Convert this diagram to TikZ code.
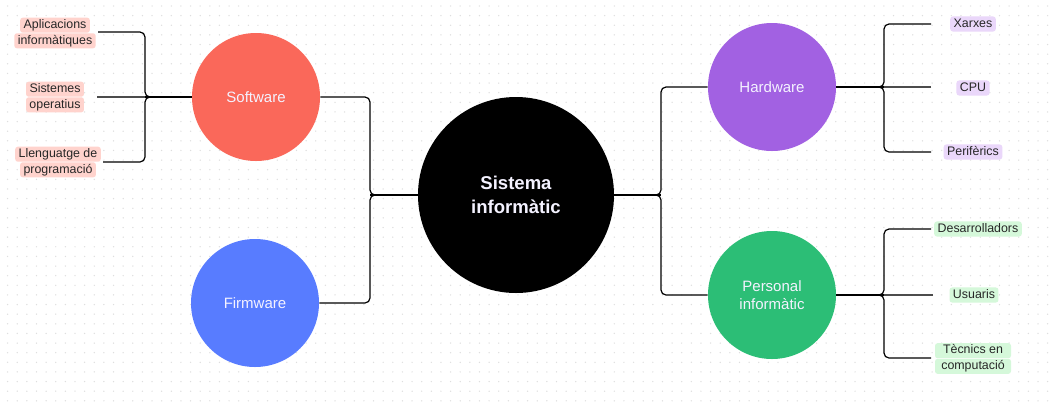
\documentclass[tikz,border=0pt]{standalone}
\usepackage{fontspec}
\setmainfont{Liberation Sans}
\definecolor{csoft}{RGB}{250,104,90}
\definecolor{cfirm}{RGB}{88,124,255}
\definecolor{chard}{RGB}{162,97,226}
\definecolor{cpers}{RGB}{44,190,118}
\definecolor{lpink}{RGB}{255,211,205}
\definecolor{lpurp}{RGB}{234,215,250}
\definecolor{lgreen}{RGB}{213,248,218}
\definecolor{ctext}{RGB}{244,242,255}
\definecolor{cdot}{RGB}{222,222,222}
\begin{document}
\begin{tikzpicture}[x=0.75pt,y=-0.75pt,
  hub/.style={circle, draw=none, inner sep=0pt, minimum size=96pt, text=ctext,
    font=\fontsize{11.25}{13.9}\selectfont, align=center},
  core/.style={circle, fill=black, inner sep=0pt, minimum size=147pt, text=ctext,
    font=\bfseries\fontsize{13.9}{18.4}\selectfont, align=center},
  lbl/.style={rounded corners=2pt, inner xsep=2.6pt, inner ysep=1.3pt,
    text height=6.8pt, text depth=1.9pt, font=\fontsize{9.3}{11}\selectfont, text=black!85},
  pinklbl/.style={lbl, fill=lpink},
  purplbl/.style={lbl, fill=lpurp},
  greenlbl/.style={lbl, fill=lgreen},
  conn/.style={draw=black, line width=0.9pt, rounded corners=3.75pt},
  connmid/.style={draw=black!70, line width=0.9pt},
]
\useasboundingbox (0,0) rectangle (1050,401);
\fill[white] (0,0) rectangle (1050,401);
% dot grid
\foreach \i in {0,...,108}{
  \foreach \j in {0,...,41}{
    \fill[cdot] (7.6+\i*9.63, 6+\j*9.63) circle[radius=0.55pt];
  }
}
% main nodes
\node[core] (c) at (516,195) {Sistema\\informàtic};
\node[hub, fill=csoft] (sw) at (256,97) {Software};
\node[hub, fill=cfirm] (fw) at (255,303) {Firmware};
\node[hub, fill=chard] (hw) at (772,87) {Hardware};
\node[hub, fill=cpers] (pi) at (772,295) {Personal\\informàtic};
% labels left
\node[pinklbl, anchor=south] (a1) at (55,33) {Aplicacions};
\node[pinklbl, anchor=north] (a2) at (55,33) {informàtiques};
\node[pinklbl, anchor=south] (s1) at (55,97) {Sistemes};
\node[pinklbl, anchor=north] (s2) at (55,97) {operatius};
\node[pinklbl, anchor=south] (l1) at (58,162) {Llenguatge de};
\node[pinklbl, anchor=north] (l2) at (58,162) {programació};
% labels right
\node[purplbl] (x) at (973,24) {Xarxes};
\node[purplbl] (cpu) at (973,88) {CPU};
\node[purplbl] (pf) at (973,152) {Perifèrics};
\node[greenlbl] (d) at (978,229) {Desarrolladors};
\node[greenlbl] (u) at (974,295) {Usuaris};
\node[greenlbl, anchor=south, minimum width=57pt] (t1) at (973,358.5) {Tècnics en};
\node[greenlbl, anchor=north, minimum width=57pt] (t2) at (973,358.5) {computació};
% junction coordinates
\coordinate (jL) at (370,195);
\coordinate (jR) at (661,195);
\coordinate (jS) at (145,97);
\coordinate (jH) at (884,87);
\coordinate (jP) at (884,295);
% connector end coordinates
\coordinate (eA) at (98,32);
\coordinate (eS) at (97,97);
\coordinate (eL) at (103,162);
\coordinate (eX) at (931,24);
\coordinate (eC) at (931,87);
\coordinate (eP) at (931,152);
\coordinate (eD) at (931,229);
\coordinate (eU) at (933,295);
\coordinate (eT) at (931,358);
% center to level 1
\draw[conn] (c.west) -- (jL);
\draw[conn] (sw.east) -- (jL |- sw.east) -- (jL) -- ++(10,0);
\draw[conn] (fw.east) -- (jL |- fw.east) -- (jL) -- ++(10,0);
\draw[conn] (c.east) -- (jR);
\draw[conn] (hw.west) -- (jR |- hw.west) -- (jR) -- ++(-10,0);
\draw[conn] (pi.west) -- (jR |- pi.west) -- (jR) -- ++(-10,0);
% software children
\draw[conn] (sw.west) -- (jS);
\draw[conn] (eA) -- (jS |- eA) -- (jS) -- ++(10,0);
\draw[conn] (eL) -- (jS |- eL) -- (jS) -- ++(10,0);
\draw[connmid] (eS) -- (jS);
% hardware children
\draw[conn] (hw.east) -- (jH);
\draw[conn] (eX) -- (jH |- eX) -- (jH) -- ++(-10,0);
\draw[conn] (eP) -- (jH |- eP) -- (jH) -- ++(-10,0);
\draw[connmid] (eC) -- (jH);
% personal children
\draw[conn] (pi.east) -- (jP);
\draw[conn] (eD) -- (jP |- eD) -- (jP) -- ++(-10,0);
\draw[conn] (eT) -- (jP |- eT) -- (jP) -- ++(-10,0);
\draw[connmid] (eU) -- (jP);
\end{tikzpicture}
\end{document}
